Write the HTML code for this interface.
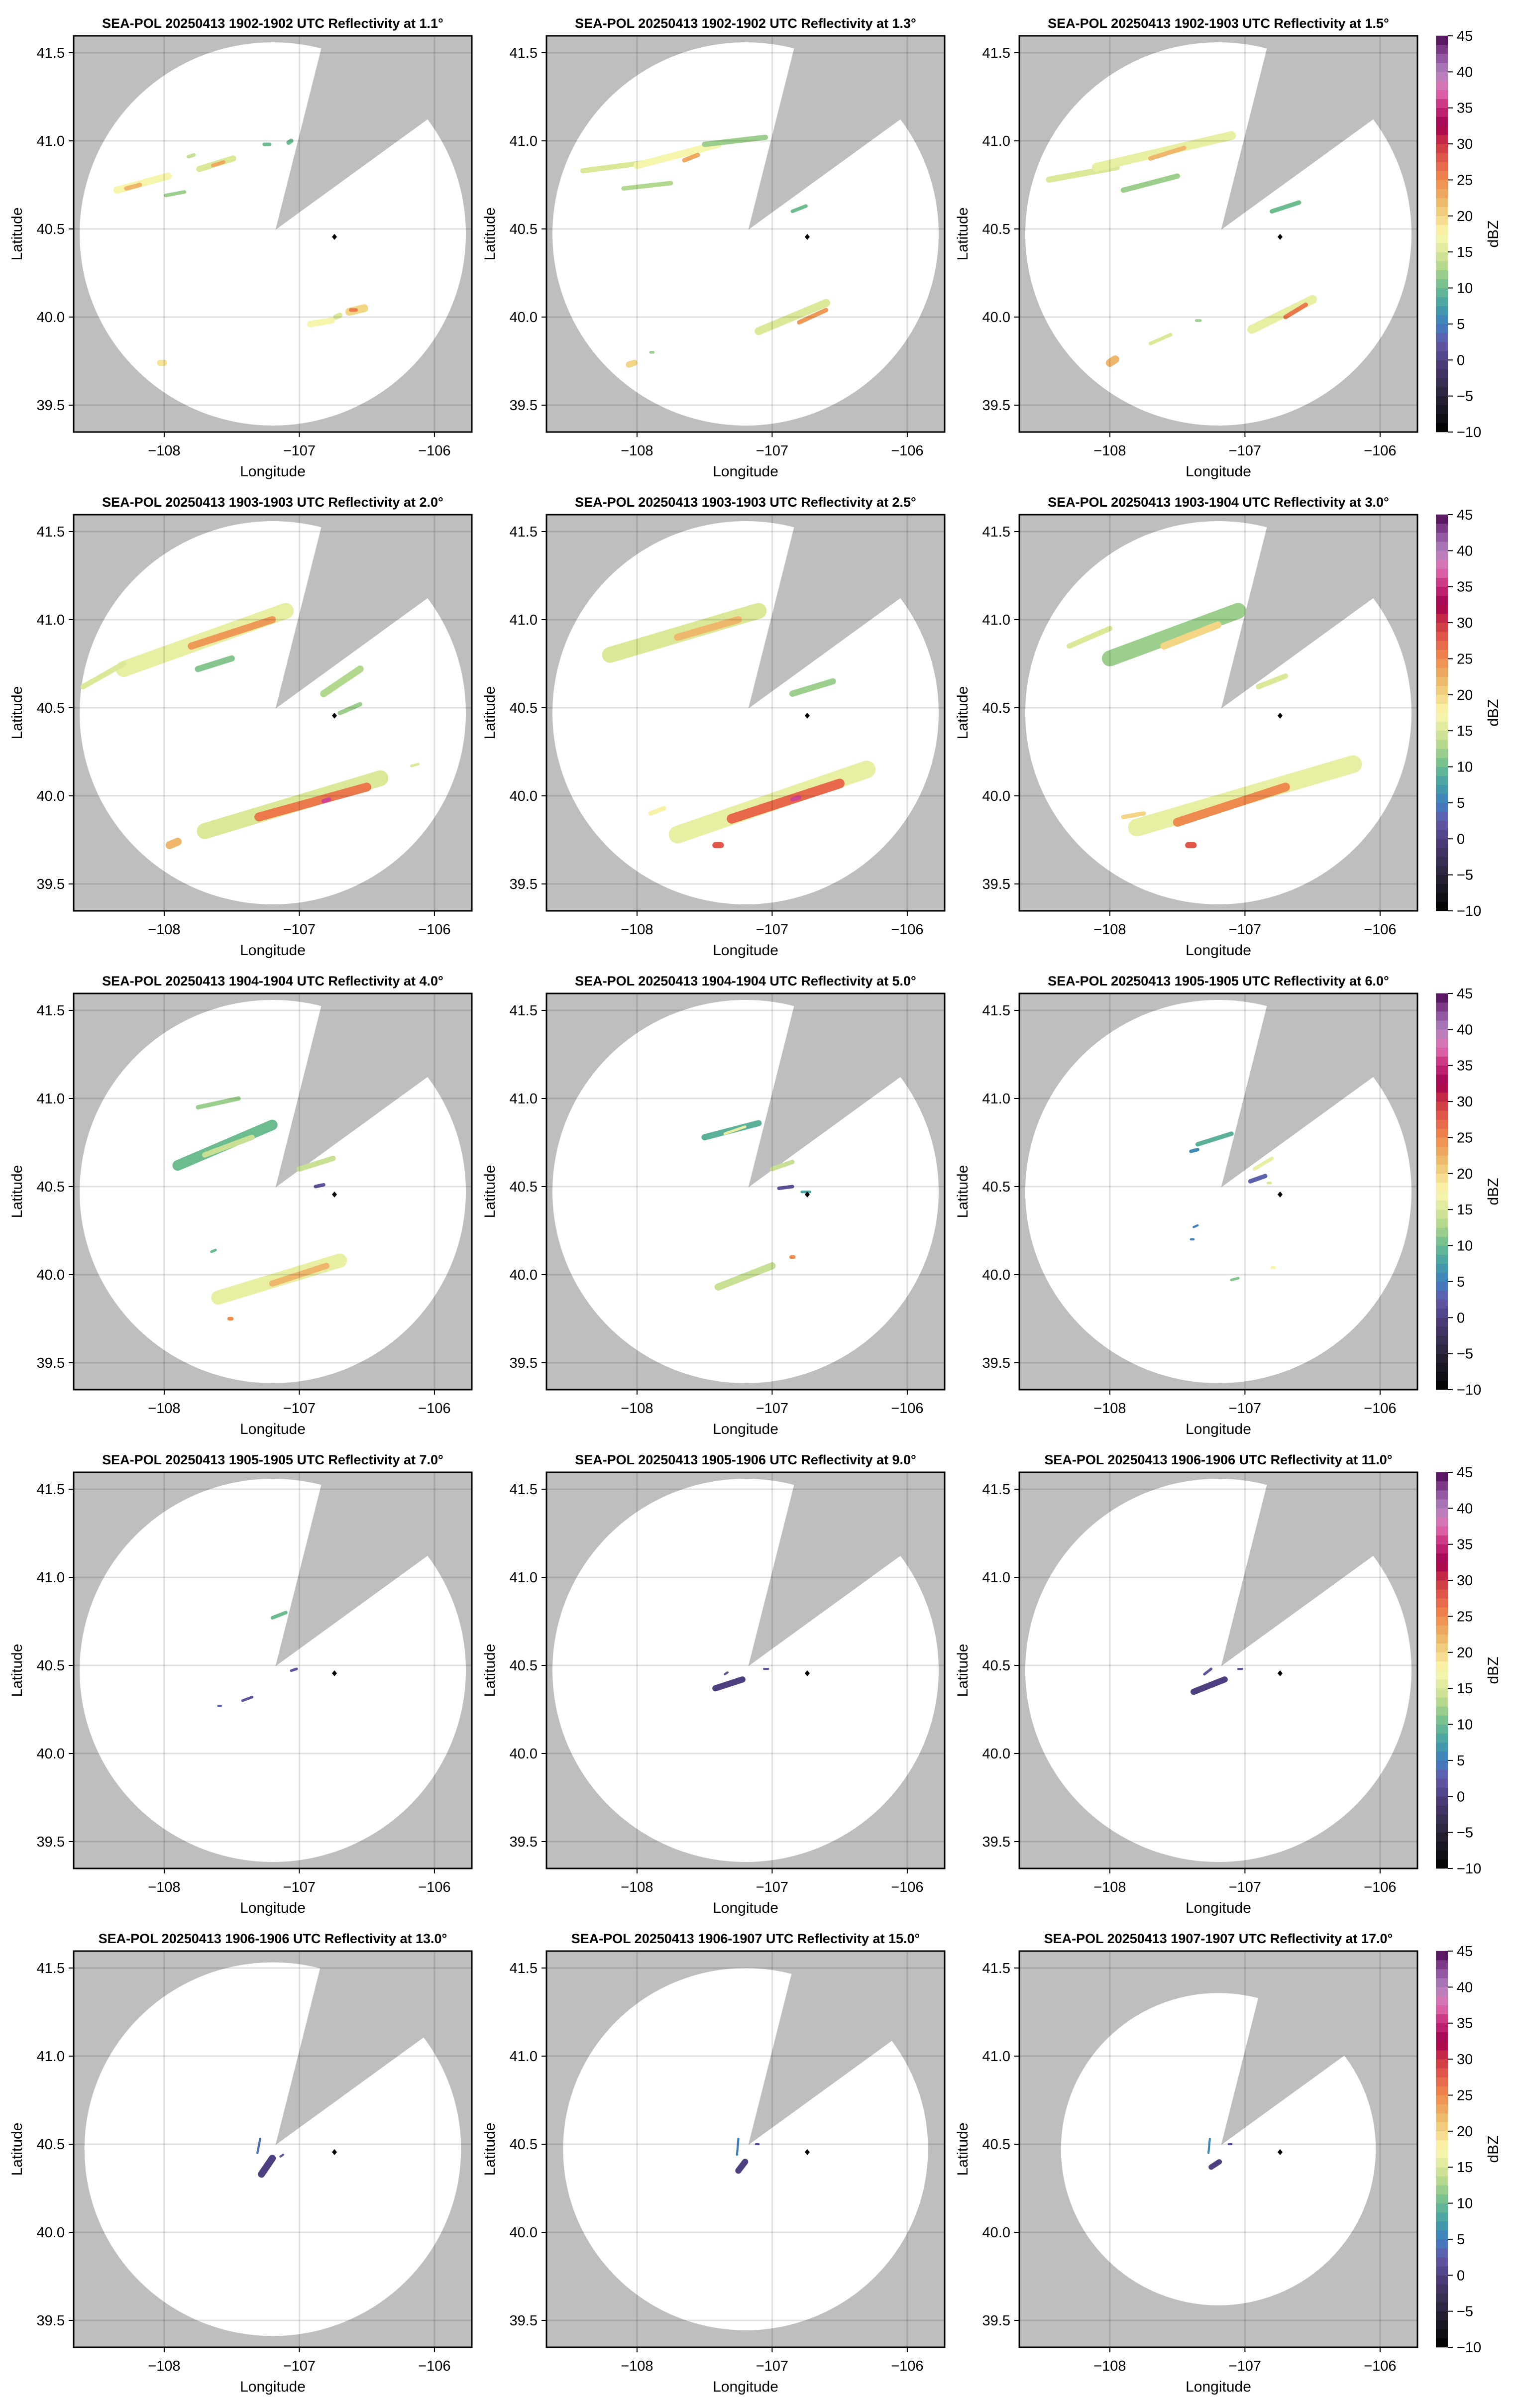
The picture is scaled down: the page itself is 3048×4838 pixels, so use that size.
<!DOCTYPE html>
<html><head><meta charset="utf-8">
<style>
html,body{margin:0;padding:0;background:#fff;}
svg{display:block;font-family:"Liberation Sans",Arial,sans-serif;}
</style></head>
<body>
<svg id="fig" xmlns="http://www.w3.org/2000/svg" width="3048" height="4838" viewBox="0 0 3048 4838"></svg>
<script>
// ---- data ----
const times = ["1902-1902","1902-1902","1902-1903","1903-1903","1903-1903","1903-1904","1904-1904","1904-1904","1905-1905","1905-1905","1905-1906","1906-1906","1906-1906","1906-1907","1907-1907"];
const elevations = ["1.1","1.3","1.5","2.0","2.5","3.0","4.0","5.0","6.0","7.0","9.0","11.0","13.0","15.0","17.0"];
const xTicks = [-108,-107,-106];
const yTicks = [39.5,40.0,40.5,41.0,41.5];
const cbTicks = [-10,-5,0,5,10,15,20,25,30,35,40,45];
const radarRange = [1,1,1,1,1,1,1,1,1,1,1,1,0.975,0.945,0.815];
const siteLon = -106.74, siteLat = 40.455;
// echo segments: [lon1, lat1, lon2, lat2, widthDegLat, dBZ]
const echoes1 = [[-108.35,40.72,-107.97,40.80,0.04,17],[-108.28,40.73,-108.18,40.75,0.025,22],[-107.74,40.84,-107.49,40.90,0.035,15],[-107.64,40.86,-107.56,40.88,0.02,23],[-107.99,40.69,-107.85,40.71,0.02,12],[-107.82,40.91,-107.78,40.92,0.02,14],[-107.26,40.98,-107.22,40.98,0.02,10],[-107.08,40.99,-107.06,41.0,0.025,10],[-106.92,39.96,-106.76,39.98,0.035,17],[-106.73,40.0,-106.70,40.01,0.03,15],[-106.63,40.03,-106.52,40.05,0.045,20],[-106.62,40.04,-106.58,40.04,0.02,26],[-108.03,39.74,-108.0,39.74,0.035,19]];
const echoes2 = [[-108.4,40.83,-107.9,40.88,0.03,15],[-108.0,40.86,-107.4,40.98,0.04,17],[-107.65,40.89,-107.55,40.92,0.025,23],[-107.5,40.98,-107.05,41.02,0.03,12],[-108.1,40.73,-107.75,40.76,0.025,13],[-106.85,40.6,-106.75,40.63,0.02,10],[-107.1,39.92,-106.6,40.08,0.045,15],[-106.8,39.97,-106.6,40.04,0.025,24],[-108.06,39.73,-108.02,39.74,0.035,20],[-107.9,39.8,-107.88,39.8,0.015,12]];
const echoes3 = [[-108.45,40.78,-107.95,40.85,0.035,15],[-108.1,40.85,-107.1,41.03,0.05,16],[-107.7,40.9,-107.45,40.96,0.025,22],[-107.9,40.72,-107.5,40.8,0.03,12],[-106.8,40.6,-106.6,40.65,0.025,10],[-106.95,39.93,-106.5,40.1,0.05,16],[-106.7,40.0,-106.55,40.07,0.025,26],[-108.0,39.74,-107.96,39.76,0.045,22],[-107.7,39.85,-107.55,39.9,0.02,15],[-107.36,39.98,-107.33,39.98,0.015,12]];
const echoes4 = [[-108.3,40.72,-107.1,41.05,0.09,16],[-107.8,40.85,-107.2,41.0,0.04,24],[-108.6,40.62,-108.3,40.75,0.03,15],[-107.75,40.72,-107.5,40.78,0.035,11],[-106.82,40.58,-106.55,40.72,0.04,13],[-106.7,40.47,-106.55,40.52,0.025,12],[-107.7,39.8,-106.4,40.1,0.09,15],[-107.3,39.88,-106.5,40.05,0.05,26],[-106.82,39.97,-106.78,39.98,0.025,36],[-107.96,39.72,-107.9,39.74,0.045,22],[-106.17,40.17,-106.12,40.18,0.015,15]];
const echoes5 = [[-108.2,40.8,-107.1,41.05,0.09,15],[-107.7,40.9,-107.25,41.0,0.04,22],[-106.85,40.58,-106.55,40.65,0.035,12],[-107.7,39.78,-106.3,40.15,0.1,16],[-107.3,39.87,-106.5,40.07,0.055,27],[-106.85,39.98,-106.8,39.99,0.025,36],[-107.42,39.72,-107.38,39.72,0.035,28],[-107.9,39.9,-107.8,39.93,0.025,18]];
const echoes6 = [[-108.0,40.78,-107.05,41.05,0.09,12],[-107.6,40.85,-107.2,40.97,0.04,20],[-108.3,40.85,-108.0,40.95,0.03,15],[-106.9,40.62,-106.7,40.68,0.03,15],[-107.8,39.82,-106.2,40.18,0.1,16],[-107.5,39.85,-106.7,40.05,0.05,25],[-107.42,39.72,-107.38,39.72,0.035,28],[-107.9,39.88,-107.75,39.9,0.025,20]];
const echoes7 = [[-107.9,40.62,-107.2,40.85,0.06,10],[-107.7,40.68,-107.35,40.78,0.03,14],[-107.75,40.95,-107.45,41.0,0.025,12],[-107.0,40.6,-106.75,40.66,0.03,14],[-106.88,40.5,-106.82,40.51,0.02,2],[-107.6,39.87,-106.7,40.08,0.08,16],[-107.2,39.95,-106.8,40.05,0.035,22],[-107.52,39.75,-107.5,39.75,0.02,25],[-107.65,40.13,-107.62,40.14,0.015,10]];
const echoes8 = [[-107.5,40.78,-107.1,40.86,0.035,9],[-107.35,40.8,-107.2,40.84,0.015,16],[-107.0,40.6,-106.85,40.64,0.025,14],[-107.4,39.93,-107.0,40.05,0.04,14],[-106.86,40.1,-106.84,40.1,0.02,25],[-106.95,40.49,-106.85,40.5,0.02,2],[-106.78,40.47,-106.72,40.47,0.015,8]];
const echoes9 = [[-107.35,40.74,-107.1,40.8,0.025,9],[-107.4,40.7,-107.35,40.71,0.02,6],[-106.96,40.53,-106.85,40.56,0.025,3],[-106.93,40.6,-106.8,40.66,0.02,16],[-106.83,40.52,-106.81,40.52,0.015,15],[-107.38,40.27,-107.35,40.28,0.012,5],[-107.4,40.2,-107.38,40.2,0.012,5],[-107.1,39.97,-107.05,39.98,0.015,11],[-106.8,40.04,-106.78,40.04,0.015,17]];
const echoes10 = [[-107.2,40.77,-107.1,40.8,0.02,10],[-107.42,40.3,-107.35,40.32,0.015,2],[-107.6,40.27,-107.58,40.27,0.012,3],[-107.06,40.47,-107.02,40.48,0.015,2]];
const echoes11 = [[-107.42,40.37,-107.22,40.42,0.035,0],[-107.35,40.45,-107.33,40.46,0.012,2],[-107.06,40.48,-107.03,40.48,0.012,2]];
const echoes12 = [[-107.38,40.35,-107.15,40.42,0.035,0],[-107.3,40.45,-107.25,40.48,0.015,2],[-107.05,40.48,-107.02,40.48,0.012,2]];
const echoes13 = [[-107.28,40.33,-107.2,40.42,0.04,0],[-107.31,40.45,-107.29,40.53,0.012,4],[-107.14,40.43,-107.12,40.44,0.012,2]];
const echoes14 = [[-107.25,40.35,-107.2,40.4,0.035,0],[-107.26,40.44,-107.25,40.53,0.012,5],[-107.12,40.5,-107.1,40.5,0.012,2]];
const echoes15 = [[-107.25,40.37,-107.19,40.4,0.03,0],[-107.27,40.45,-107.26,40.53,0.012,6],[-107.12,40.5,-107.1,40.5,0.012,2]];
const allEchoes = [echoes1,echoes2,echoes3,echoes4,echoes5,echoes6,echoes7,echoes8,echoes9,echoes10,echoes11,echoes12,echoes13,echoes14,echoes15];

// ---- layout ----
const NS="http://www.w3.org/2000/svg";
const svg=document.getElementById('fig');
const colLeft=[148,1098,2048], rowTop0=72, rowPitch=962, AW=800, AH=796;
const LON0=-108.67, PXLON=271.5, LAT1=41.596, PXLAT=354;
const xs=lon=>(lon-LON0)*PXLON;
const ys=lat=>(LAT1-lat)*PXLAT;
const stops=[[-10,[0,0,0]],[-5,[42,34,56]],[0,[78,63,128]],[2.5,[98,89,168]],[5,[63,127,192]],[7.5,[69,160,168]],[10,[108,188,144]],[12.5,[168,212,140]],[15,[219,232,152]],[17.5,[251,248,176]],[20,[243,213,133]],[22.5,[238,176,100]],[25,[239,138,78]],[27.5,[229,96,74]],[30,[204,53,69]],[32.5,[160,0,79]],[35,[198,40,122]],[37.5,[224,112,176]],[40,[176,130,190]],[42.5,[138,74,154]],[45,[74,10,80]]];
function cmap(v){v=Math.max(-10,Math.min(45,v));for(let i=0;i<stops.length-1;i++){const a=stops[i],b=stops[i+1];if(v<=b[0]){const t=(v-a[0])/(b[0]-a[0]);const c=a[1].map((x,k)=>Math.round(x+(b[1][k]-x)*t));return `rgb(${c[0]},${c[1]},${c[2]})`;}}return 'rgb(74,10,80)';}
function el(tag,attrs,parent){const e=document.createElementNS(NS,tag);for(const k in attrs)e.setAttribute(k,attrs[k]);(parent||svg).appendChild(e);return e;}

for(let p=0;p<15;p++){
  const r=Math.floor(p/3), c=p%3;
  const L=colLeft[c], T=rowTop0+r*rowPitch;
  const g=el('g',{transform:`translate(${L},${T})`});
  
  
  const clip=el('clipPath',{id:'clip'+p},g);
  el('rect',{x:0,y:0,width:AW,height:AH},clip);
  const inner=el('g',{'clip-path':`url(#clip${p})`},g);
  const bg=el('rect',{x:0,y:0,width:AW,height:AH,fill:'#bebebe'},inner);
  
  
  const rr=radarRange[p];
  const cov=el('ellipse',{cx:400,cy:398,rx:388*rr,ry:385*rr,fill:'#fff'},inner);
  
  
  const ax=405.6, ay=389.6;
  const d1=[91.8,-364], d2=[304,-220.7];
  const wedge=el('polygon',{points:`${ax},${ay} ${ax+d1[0]*5},${ay+d1[1]*5} ${ax+d2[0]*5},${ay+d2[1]*5}`,fill:'#bebebe'},inner);
  
  
  allEchoes[p].forEach(e=>{
    const ln=el('line',{x1:xs(e[0]),y1:ys(e[1]),x2:xs(e[2]),y2:ys(e[3]),stroke:cmap(e[5]),'stroke-width':Math.max(4,e[4]*PXLAT),'stroke-linecap':'round'},inner);
    
    
  });
  xTicks.forEach(t=>{const gl=el('line',{x1:xs(t),y1:0,x2:xs(t),y2:AH,stroke:'rgba(0,0,0,0.12)','stroke-width':3},inner);});
  yTicks.forEach(t=>{const gl=el('line',{x1:0,y1:ys(t),x2:AW,y2:ys(t),stroke:'rgba(0,0,0,0.12)','stroke-width':3},inner);});
  const sx=xs(siteLon), sy=ys(siteLat);
  const mk=el('polygon',{points:`${sx},${sy-6} ${sx+5},${sy} ${sx},${sy+6} ${sx-5},${sy}`,fill:'#000'},g);
  
  
  const fr=el('rect',{x:0,y:0,width:AW,height:AH,fill:'none',stroke:'#000','stroke-width':3},g);
  
  
  xTicks.forEach(t=>{
    el('line',{x1:xs(t),y1:AH,x2:xs(t),y2:AH+10,stroke:'#000','stroke-width':2},g);
    const tx=el('text',{x:xs(t),y:AH+47,'font-size':29,'text-anchor':'middle',fill:'#000'},g);
    tx.textContent='\u2212'+Math.abs(t);
    
    
  });
  yTicks.forEach(t=>{
    el('line',{x1:-10,y1:ys(t),x2:0,y2:ys(t),stroke:'#000','stroke-width':2},g);
    const tx=el('text',{x:-18,y:ys(t)+10,'font-size':29,'text-anchor':'end',fill:'#000'},g);
    tx.textContent=t.toFixed(1);
    
    
  });
  const xl=el('text',{x:400,y:AH+89,'font-size':30,'text-anchor':'middle',fill:'#000'},g);
  xl.textContent='Longitude';
  
  
  const yl=el('text',{x:0,y:0,'font-size':30,'text-anchor':'middle',fill:'#000',transform:`translate(-104,398) rotate(-90)`},g);
  yl.textContent='Latitude';
  
  
  const tt=el('text',{x:400,y:-16,'font-size':27,'font-weight':'bold','text-anchor':'middle',fill:'#000'},g);
  tt.textContent=`SEA-POL 20250413 ${times[p]} UTC Reflectivity at ${elevations[p]}\u00b0`;
  
  
  if(c===2){
    const cb=el('g',{transform:`translate(2885,${T})`});
    
    
    const nb=44, bh=AH/nb;
    for(let i=0;i<nb;i++){
      const v=-10+(i+0.5)*55/nb;
      el('rect',{x:0,y:AH-(i+1)*bh-0.3,width:24,height:bh+0.6,fill:cmap(v)},cb);
    }
    cbTicks.forEach(t=>{
      const y=AH-(t+10)/55*AH;
      el('line',{x1:24,y1:y,x2:34,y2:y,stroke:'#000','stroke-width':2},cb);
      const tx=el('text',{x:42,y:y+10,'font-size':29,fill:'#000'},cb);
      tx.textContent=(t<0?'\u2212'+Math.abs(t):String(t));
      
      
    });
    const lb=el('text',{x:0,y:0,'font-size':30,'text-anchor':'middle',fill:'#000',transform:`translate(125,398) rotate(-90)`},cb);
    lb.textContent='dBZ';
    
    
  }
}
</script>
</body></html>
